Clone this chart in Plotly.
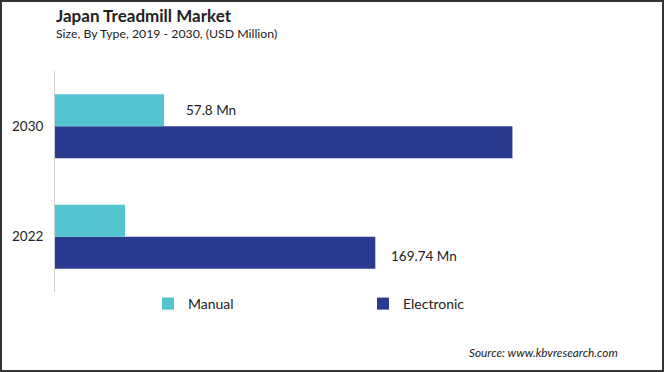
import plotly.graph_objects as go

# Data
years = ["2022", "2030"]
manual = [37.1, 57.8]
electronic = [169.74, 242.4]
manual_labels = ["", "57.8 Mn"]
electronic_labels = ["169.74 Mn", ""]

title = "Japan Treadmill Market"
subtitle = "Size, By Type, 2019 - 2030, (USD Million)"
source = "Source: www.kbvresearch.com"

W, H = 664, 372
ML, MR, MT, MB = 55, 24, 71, 80
PW = W - ML - MR
PH = H - MT - MB

FONT = "Lato"
C_MAN = "#52C4CF"
C_ELE = "#2A3A8F"

fig = go.Figure()
fig.add_trace(go.Bar(y=years, x=electronic, orientation="h", name="Electronic",
                     marker=dict(color=C_ELE, line=dict(width=0)), legendrank=2))
fig.add_trace(go.Bar(y=years, x=manual, orientation="h", name="Manual",
                     marker=dict(color=C_MAN, line=dict(width=0)), legendrank=1))

ann = []
for i, (v, t) in enumerate(zip(manual, manual_labels)):
    if t:
        ann.append(dict(x=v, y=i, text=t, showarrow=False, xanchor="left", xshift=20,
                        yshift=16, font=dict(size=13.5, color="#222", family=FONT)))
for i, (v, t) in enumerate(zip(electronic, electronic_labels)):
    if t:
        ann.append(dict(x=v, y=i, text=t, showarrow=False, xanchor="left", xshift=14,
                        yshift=-19, font=dict(size=13.5, color="#222", family=FONT)))

ann.append(dict(x=(54 - ML) / PW, y=(H - MB - 15) / PH, xref="paper", yref="paper",
                text="<b>" + title + "</b>", showarrow=False, xanchor="left", yanchor="middle",
                font=dict(size=17, color="#222", family=FONT)))
ann.append(dict(x=(54 - ML) / PW, y=(H - MB - 34) / PH, xref="paper", yref="paper",
                text=subtitle, showarrow=False, xanchor="left", yanchor="middle",
                font=dict(size=12.3, color="#222", family=FONT)))
ann.append(dict(x=(620 - ML) / PW, y=(H - MB - 352) / PH, xref="paper", yref="paper",
                text="<i>" + source + "</i>", showarrow=False, xanchor="right", yanchor="middle",
                font=dict(size=11.8, color="#222", family=FONT)))

fig.update_layout(
    width=W, height=H,
    margin=dict(l=ML, r=MR, t=MT, b=MB, autoexpand=False),
    paper_bgcolor="white", plot_bgcolor="white",
    barmode="group", bargap=0.42, bargroupgap=0,
    showlegend=True,
    legend=dict(orientation="h", x=(148 - ML) / PW, y=(H - MB - 304) / PH,
                xanchor="left", yanchor="middle", entrywidth=170, entrywidthmode="pixels",
                font=dict(size=14, color="#222", family=FONT), bgcolor="rgba(0,0,0,0)"),
    xaxis=dict(range=[0, 310], showgrid=False, zeroline=False, showticklabels=False,
               showline=False),
    yaxis=dict(type="category", categoryorder="array", categoryarray=years,
               range=[-0.5, 1.5], autorange=False, showgrid=False,
               zeroline=False, showline=True, linecolor="#d0d0d0", linewidth=1,
               ticks="outside", ticklen=8, tickcolor="rgba(0,0,0,0)",
               tickfont=dict(size=13.5, color="#222", family=FONT)),
    annotations=ann,
    font=dict(family=FONT),
    shapes=[dict(type="rect", xref="paper", yref="paper",
                 x0=(-ML + 1) / PW, x1=(PW + MR - 1) / PW,
                 y0=(-MB + 1) / PH, y1=(PH + MT - 1) / PH,
                 line=dict(color="#333", width=2))],
)

fig.write_html("out.html", config={"displayModeBar": False},
               post_script="document.body.style.margin='0';document.body.style.overflow='hidden';")
